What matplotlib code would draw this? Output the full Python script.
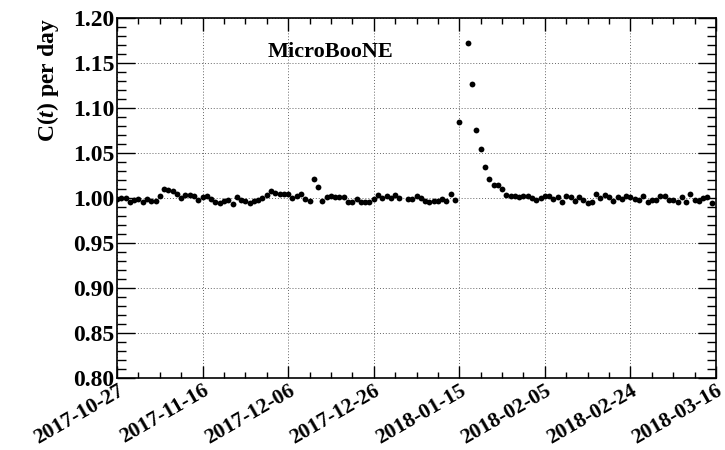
import matplotlib

matplotlib.use("Agg")
import matplotlib.pyplot as plt
import matplotlib.transforms as mtransforms
import numpy as np
import pandas as pd
from matplotlib.ticker import MultipleLocator

# daily normalised count ratio C(t); nan marks days without a measurement
start_date = "2017-10-27"
n_days_axis = 140
tick_step_days = 20
tick_labels = [
    "2017-10-27", "2017-11-16", "2017-12-06", "2017-12-26",
    "2018-01-15", "2018-02-05", "2018-02-24", "2018-03-16",
]
ratio_oct_nov = [
    0.999, 1.000, 1.000, 0.996, 0.998, 0.999, 0.995, 0.999, 0.997, 0.997,
    1.002, 1.010, 1.009, 1.008, 1.004, 1.000, 1.003, 1.003, 1.002, 0.998,
    1.001, 1.002, 0.999, 0.996, 0.994, 0.997, 0.998, 0.993, 1.001, 0.998,
    0.997, 0.994, 0.997, 0.998, 1.000,
]
ratio_dec = [
    1.003, 1.008, 1.006, 1.004, 1.004, 1.005, 1.000, 1.002, 1.004, 0.999,
    0.997, 1.021, 1.012, 0.997, 1.001, 1.002, 1.001, 1.001, 1.001, 0.995,
    0.996, 0.999, 0.996, 0.996, 0.996, 0.999, 1.003, 1.000, 1.002, 1.000,
    1.003, 1.000,
]
ratio_jan = [
    np.nan, 0.999, 0.999, 1.002, 1.000, 0.997, 0.995, 0.997, 0.997, 0.999,
    0.997, 1.004, 0.998, 1.084, np.nan, 1.172, 1.127, 1.076, 1.054, 1.035,
    1.021, 1.014, 1.014, 1.010, 1.003, 1.002, 1.002, 1.001, 1.002, 1.002,
    1.000, 0.998, 1.000, 1.002, 1.002,
]
ratio_feb_mar = [
    0.999, 1.001, 0.995, 1.002, 1.001, 0.997, 1.001, 0.998, 0.994, 0.996,
    1.004, 1.000, 1.003, 1.001, 0.997, 1.001, 0.999, 1.002, 1.001, 0.999,
    0.998, 1.002, 0.996, 0.998, 0.998, 1.002, 1.002, 0.998, 0.998, 0.995,
    1.001, 0.996, 1.004, 0.998, 0.997, 1.000, 1.001, 0.994,
]

plt.rcParams["font.family"] = ["Liberation Serif", "DejaVu Serif"]
plt.rcParams["font.weight"] = "bold"
plt.rcParams["mathtext.fontset"] = "custom"
plt.rcParams["mathtext.rm"] = "Liberation Serif:bold"
plt.rcParams["mathtext.it"] = "Liberation Serif:italic:bold"

ratio = np.array(ratio_oct_nov + ratio_dec + ratio_jan + ratio_feb_mar)
t0 = pd.Timestamp(start_date)
dates = pd.date_range(t0, periods=len(ratio), freq="D")

fig = plt.figure(figsize=(7.25, 4.5), dpi=100)
ax = fig.add_axes([0.1614, 0.16, 0.8262, 0.80])

ax.plot(dates, ratio, "o", color="black", ms=4.2, mew=0, zorder=3)

ax.set_xlim(t0, t0 + pd.Timedelta(days=n_days_axis))
ax.set_ylim(0.80, 1.20)

tick_pos = [t0 + pd.Timedelta(days=i * tick_step_days) for i in range(len(tick_labels))]
ax.set_xticks(tick_pos)
ax.set_xticklabels(tick_labels, rotation=30, ha="right", va="top",
                   rotation_mode="anchor", fontsize=15.5, fontweight="bold")
shift = mtransforms.ScaledTranslation(8 / 100, 1 / 100, fig.dpi_scale_trans)
for lbl in ax.get_xticklabels():
    lbl.set_transform(lbl.get_transform() + shift)
minor_pos = [t0 + pd.Timedelta(days=d) for d in range(0, n_days_axis + 1, 5)]
ax.set_xticks(minor_pos, minor=True)

ax.yaxis.set_major_locator(MultipleLocator(0.05))
ax.yaxis.set_minor_locator(MultipleLocator(0.01))
ax.yaxis.set_major_formatter(plt.FormatStrFormatter("%.2f"))
for lbl in ax.get_yticklabels():
    lbl.set_fontsize(17)
    lbl.set_fontweight("bold")

ax.tick_params(axis="both", which="both", direction="in", top=True, right=True,
               colors="black", width=1.0)
ax.tick_params(axis="y", which="major", length=13, pad=2)
ax.tick_params(axis="y", which="minor", length=6.5)
ax.tick_params(axis="x", which="major", length=9, pad=2)
ax.tick_params(axis="x", which="minor", length=4.5)

ax.grid(True, which="major", color="0.4", linestyle=(0, (1, 2)), linewidth=0.7)
for spine in ax.spines.values():
    spine.set_linewidth(1.2)

ax.set_ylabel("C($t$) per day", fontsize=17, fontweight="bold", loc="top")
ax.yaxis.set_label_coords(-0.093, 1.0)

ax.text(0.356, 0.905, "MicroBooNE", transform=ax.transAxes, ha="center",
        va="center", fontsize=16, fontweight="bold")

fig.savefig("out.png", dpi=100)
